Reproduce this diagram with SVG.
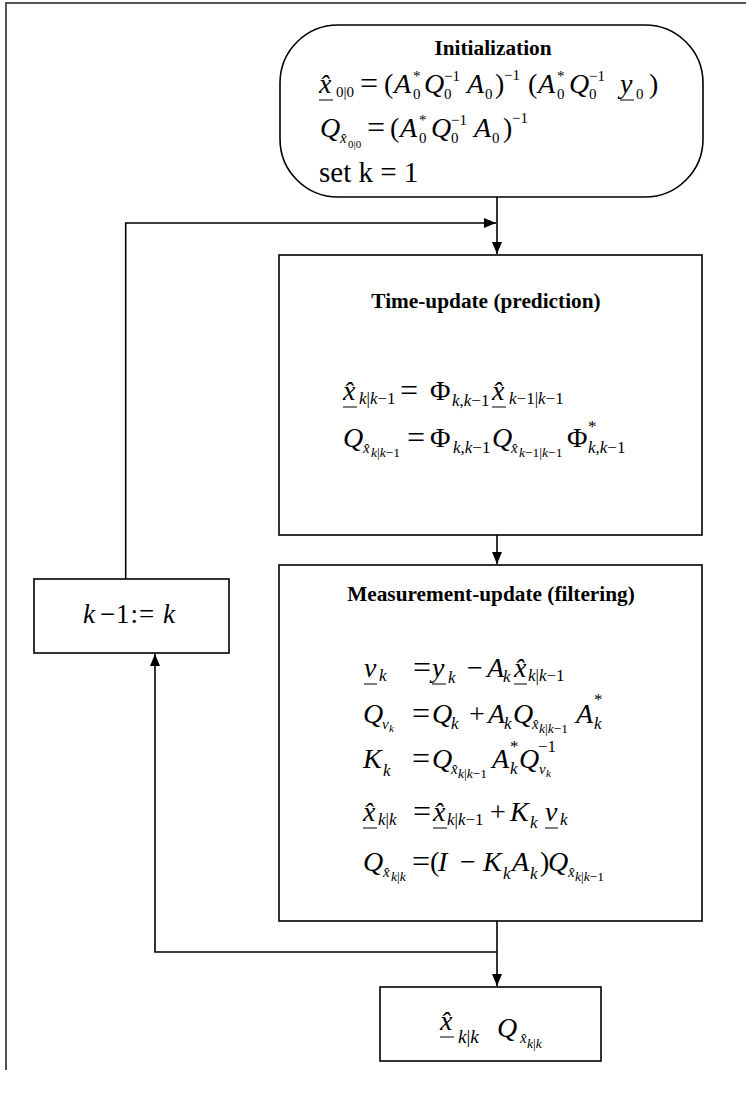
<svg xmlns="http://www.w3.org/2000/svg" width="746" height="1094" viewBox="0 0 746 1094">
<style>
.bg{fill:#fff}
.box{fill:#fff;stroke:#000;stroke-width:1.6}
.page{stroke:#555;stroke-width:2;fill:none}
.con{stroke:#000;stroke-width:1.6;fill:none}
.ul{stroke:#000;stroke-width:1}
.t{font-family:"Liberation Serif",serif;font-weight:bold;font-size:21.3px;text-anchor:middle}
.m{font-family:"Liberation Serif",serif;font-style:italic;font-size:28px}
.u{font-style:normal}
.eq{font-style:normal;font-size:32px}
.s{font-size:17px}
.s15{font-size:15px}
.ss{font-size:13.5px}
.s11{font-size:11px}
</style>
<defs>
<marker id="ah" markerUnits="userSpaceOnUse" markerWidth="12" markerHeight="10" refX="12" refY="5" orient="auto">
<path d="M0,0 L12,5 L0,10 z" fill="#000"/>
</marker>
</defs>
<rect class="bg" x="0" y="0" width="746" height="1094"/>
<g id="page">
<path class="page" d="M6,1070 V3 H746"/>
</g>
<g id="connectors">
<path class="con" d="M497,197 V254" marker-end="url(#ah)"/>
<path class="con" d="M125.7,579 V223 H496" marker-end="url(#ah)"/>
<path class="con" d="M497,535 V564" marker-end="url(#ah)"/>
<path class="con" d="M497,921 V986" marker-end="url(#ah)"/>
<path class="con" d="M497,952 H155 V654" marker-end="url(#ah)"/>
</g>
<g id="init">
<rect class="box" x="280" y="25" width="423" height="172" rx="58" ry="58"/>
<text class="t" x="493" y="55">Initialization</text>
<text class="m">
<tspan x="319" y="93">x̂</tspan>
<tspan class="u s15" x="336" y="97">0|0</tspan>
<tspan class="eq" x="360" y="94">=</tspan>
<tspan class="u" x="384" y="93">(</tspan>
<tspan x="394" y="93">A</tspan><tspan class="u s15" x="413" y="81">*</tspan><tspan class="u s15" x="413" y="99">0</tspan>
<tspan x="424" y="93">Q</tspan><tspan class="u s15" x="444" y="81">−1</tspan><tspan class="u s15" x="444" y="99">0</tspan>
<tspan x="467" y="93">A</tspan><tspan class="u s15" x="485" y="99">0</tspan>
<tspan class="u" x="495" y="93">)</tspan><tspan class="u s15" x="504" y="80">−1</tspan>
<tspan class="u" x="528" y="93">(</tspan>
<tspan x="538" y="93">A</tspan><tspan class="u s15" x="557" y="81">*</tspan><tspan class="u s15" x="557" y="99">0</tspan>
<tspan x="569" y="93">Q</tspan><tspan class="u s15" x="589" y="81">−1</tspan><tspan class="u s15" x="589" y="99">0</tspan>
<tspan x="620" y="93">y</tspan><tspan class="u s15" x="636" y="99">0</tspan>
<tspan class="u" x="649" y="93">)</tspan>
</text>
<line class="ul" x1="319" y1="100" x2="333" y2="100"/>
<line class="ul" x1="620" y1="100" x2="634" y2="100"/>
<text class="m">
<tspan x="320" y="137">Q</tspan>
<tspan class="s15" x="340" y="143">x̂</tspan>
<tspan class="u s11" x="348" y="148">0|0</tspan>
<tspan class="eq" x="367" y="138">=</tspan>
<tspan class="u" x="390" y="137">(</tspan>
<tspan x="400" y="137">A</tspan><tspan class="u s15" x="419" y="125">*</tspan><tspan class="u s15" x="419" y="143">0</tspan>
<tspan x="431" y="137">Q</tspan><tspan class="u s15" x="451" y="125">−1</tspan><tspan class="u s15" x="451" y="143">0</tspan>
<tspan x="474" y="137">A</tspan><tspan class="u s15" x="492" y="143">0</tspan>
<tspan class="u" x="503" y="137">)</tspan><tspan class="u s15" x="512" y="123">−1</tspan>
</text>
<text class="m u" style="font-style:normal;font-size:29px" x="319" y="182">set k = 1</text>
</g>
<g id="time-update">
<rect class="box" x="279" y="255" width="423" height="280"/>
<text class="t" x="486" y="308">Time-update (prediction)</text>
<text class="m">
<tspan x="343" y="400">x̂</tspan>
<tspan class="s" x="359" y="404">k<tspan class="u">|</tspan>k<tspan class="u">−1</tspan></tspan>
<tspan class="eq" x="400" y="401">=</tspan>
<tspan class="u" x="430" y="400">Φ</tspan>
<tspan class="s" x="452" y="406">k<tspan class="u">,</tspan>k<tspan class="u">−1</tspan></tspan>
<tspan x="492" y="400">x̂</tspan>
<tspan class="s" x="509" y="404">k<tspan class="u">−1|</tspan>k<tspan class="u">−1</tspan></tspan>
</text>
<line class="ul" x1="343" y1="407" x2="357" y2="407"/>
<line class="ul" x1="492" y1="407" x2="506" y2="407"/>
<text class="m">
<tspan x="343" y="447">Q</tspan>
<tspan class="s15" x="363" y="453">x̂</tspan>
<tspan class="ss" x="371" y="457">k<tspan class="u">|</tspan>k<tspan class="u">−1</tspan></tspan>
<tspan class="eq" x="407" y="448">=</tspan>
<tspan class="u" x="430" y="447">Φ</tspan>
<tspan class="s" x="453" y="453">k<tspan class="u">,</tspan>k<tspan class="u">−1</tspan></tspan>
<tspan x="492" y="447">Q</tspan>
<tspan class="s15" x="511" y="453">x̂</tspan>
<tspan class="ss" x="519" y="457">k<tspan class="u">−1|</tspan>k<tspan class="u">−1</tspan></tspan>
<tspan class="u" x="567" y="447">Φ</tspan>
<tspan class="u s" x="588" y="432">*</tspan>
<tspan class="s" x="588" y="453">k<tspan class="u">,</tspan>k<tspan class="u">−1</tspan></tspan>
</text>
</g>
<g id="measurement-update">
<rect class="box" x="279" y="565" width="423" height="356"/>
<text class="t" x="491" y="601">Measurement-update (filtering)</text>
<text class="m">
<tspan x="364" y="677">v</tspan><tspan class="s" x="379" y="681">k</tspan>
<tspan class="eq" x="413" y="678">=</tspan>
<tspan x="432" y="677">y</tspan><tspan class="s" x="448" y="683">k</tspan>
<tspan class="u" x="467" y="677">−</tspan>
<tspan x="487" y="677">A</tspan><tspan class="s" x="503" y="682">k</tspan>
<tspan x="514" y="677">x̂</tspan>
<tspan class="s" x="528" y="681">k<tspan class="u">|</tspan>k<tspan class="u">−1</tspan></tspan>
</text>
<line class="ul" x1="364" y1="684" x2="377" y2="684"/>
<line class="ul" x1="432" y1="684" x2="446" y2="684"/>
<line class="ul" x1="514" y1="684" x2="527" y2="684"/>
<text class="m">
<tspan x="363" y="723">Q</tspan><tspan class="s15" x="382" y="729">v</tspan><tspan class="s11" x="389" y="732">k</tspan>
<tspan class="eq" x="412" y="724">=</tspan>
<tspan x="432" y="723">Q</tspan><tspan class="s" x="451" y="729">k</tspan>
<tspan class="u" x="469" y="723">+</tspan>
<tspan x="488" y="723">A</tspan><tspan class="s" x="504" y="729">k</tspan>
<tspan x="513" y="723">Q</tspan>
<tspan class="s15" x="532" y="729">x̂</tspan>
<tspan class="ss" x="539" y="733">k<tspan class="u">|</tspan>k<tspan class="u">−1</tspan></tspan>
<tspan x="576" y="723">A</tspan><tspan class="u s" x="594" y="705">*</tspan><tspan class="s" x="594" y="729">k</tspan>
</text>
<text class="m">
<tspan x="363" y="768">K</tspan><tspan class="s" x="383" y="776">k</tspan>
<tspan class="eq" x="412" y="769">=</tspan>
<tspan x="432" y="768">Q</tspan>
<tspan class="s15" x="451" y="774">x̂</tspan>
<tspan class="ss" x="458" y="778">k<tspan class="u">|</tspan>k<tspan class="u">−1</tspan></tspan>
<tspan x="492" y="768">A</tspan><tspan class="u s" x="510" y="752">*</tspan><tspan class="s" x="510" y="774">k</tspan>
<tspan x="519" y="768">Q</tspan><tspan class="u s" x="538" y="752">−1</tspan>
<tspan class="s15" x="539" y="774">v</tspan><tspan class="s11" x="546" y="777">k</tspan>
</text>
<text class="m">
<tspan x="363" y="821">x̂</tspan>
<tspan class="s" x="378" y="825">k<tspan class="u">|</tspan>k</tspan>
<tspan class="eq" x="413" y="822">=</tspan>
<tspan x="433" y="821">x̂</tspan>
<tspan class="s" x="447" y="825">k<tspan class="u">|</tspan>k<tspan class="u">−1</tspan></tspan>
<tspan class="u" x="490" y="821">+</tspan>
<tspan x="510" y="821">K</tspan><tspan class="s" x="530" y="828">k</tspan>
<tspan x="545" y="821">v</tspan><tspan class="s" x="560" y="825">k</tspan>
</text>
<line class="ul" x1="363" y1="828" x2="377" y2="828"/>
<line class="ul" x1="433" y1="828" x2="447" y2="828"/>
<line class="ul" x1="545" y1="828" x2="558" y2="828"/>
<text class="m">
<tspan x="363" y="871">Q</tspan>
<tspan class="s15" x="383" y="877">x̂</tspan>
<tspan class="ss" x="391" y="881">k<tspan class="u">|</tspan>k</tspan>
<tspan class="eq" x="412" y="872">=</tspan>
<tspan class="u" x="430" y="871">(</tspan>
<tspan x="438" y="871">I</tspan>
<tspan class="u" x="460" y="871">−</tspan>
<tspan x="483" y="871">K</tspan><tspan class="s" x="503" y="879">k</tspan>
<tspan x="512" y="871">A</tspan><tspan class="s" x="530" y="879">k</tspan>
<tspan class="u" x="540" y="871">)</tspan>
<tspan x="548" y="871">Q</tspan>
<tspan class="s15" x="568" y="877">x̂</tspan>
<tspan class="ss" x="575" y="881">k<tspan class="u">|</tspan>k<tspan class="u">−1</tspan></tspan>
</text>
</g>
<g id="k-update">
<rect class="box" x="34" y="579" width="195" height="74"/>
<text class="m" style="font-size:27px">
<tspan x="83" y="623">k</tspan><tspan class="u" x="100" y="623">−</tspan><tspan class="u" x="116" y="623">1</tspan><tspan class="u" x="130.5" y="623">:</tspan><tspan class="u" x="139" y="623">=</tspan><tspan x="163" y="623">k</tspan>
</text>
</g>
<g id="output">
<rect class="box" x="380" y="987" width="221" height="74"/>
<text class="m">
<tspan x="440" y="1030">x̂</tspan>
<tspan style="font-size:19px" x="458" y="1043">k<tspan class="u">|</tspan>k</tspan>
<tspan x="497" y="1037">Q</tspan>
<tspan class="s15" x="520" y="1043">x̂</tspan>
<tspan class="ss" x="527" y="1048">k<tspan class="u">|</tspan>k</tspan>
</text>
<line class="ul" x1="440" y1="1037" x2="454" y2="1037"/>
</g>
</svg>
